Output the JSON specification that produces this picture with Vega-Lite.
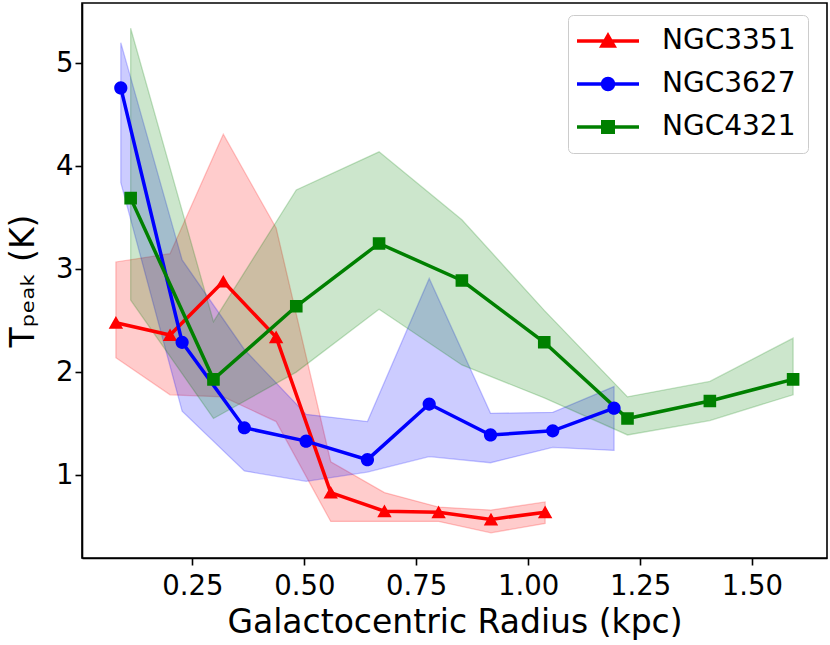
{
  "$schema": "https://vega.github.io/schema/vega-lite/v6.json",
  "width": 745,
  "height": 555,
  "autosize": {"type": "none"},
  "padding": {"left": 82, "top": 3, "right": 3, "bottom": 87},
  "background": "white",
  "config": {
    "view": {"stroke": "black", "strokeWidth": 1.6},
    "axis": {
      "grid": false,
      "domainColor": "black",
      "domainWidth": 1.6,
      "tickColor": "black",
      "tickWidth": 1.6,
      "tickSize": 7,
      "labelFont": "DejaVu Sans",
      "labelFontSize": 27.5,
      "labelColor": "black",
      "titleFont": "DejaVu Sans",
      "titleFontSize": 33,
      "titleFontWeight": "normal",
      "titleColor": "black"
    }
  },
  "data": {
    "values": [
      {"galaxy": "NGC3351", "r": 0.079, "t": 2.48, "lo": 2.14, "hi": 3.07},
      {"galaxy": "NGC3351", "r": 0.200, "t": 2.36, "lo": 1.78, "hi": 3.15},
      {"galaxy": "NGC3351", "r": 0.319, "t": 2.88, "lo": 1.76, "hi": 4.31},
      {"galaxy": "NGC3351", "r": 0.437, "t": 2.34, "lo": 1.52, "hi": 3.40},
      {"galaxy": "NGC3351", "r": 0.559, "t": 0.83, "lo": 0.55, "hi": 1.13},
      {"galaxy": "NGC3351", "r": 0.679, "t": 0.65, "lo": 0.55, "hi": 0.83},
      {"galaxy": "NGC3351", "r": 0.800, "t": 0.64, "lo": 0.55, "hi": 0.69},
      {"galaxy": "NGC3351", "r": 0.917, "t": 0.57, "lo": 0.44, "hi": 0.66},
      {"galaxy": "NGC3351", "r": 1.038, "t": 0.64, "lo": 0.53, "hi": 0.74},
      {"galaxy": "NGC3627", "r": 0.090, "t": 4.76, "lo": 3.84, "hi": 5.20},
      {"galaxy": "NGC3627", "r": 0.227, "t": 2.29, "lo": 1.62, "hi": 3.09},
      {"galaxy": "NGC3627", "r": 0.366, "t": 1.46, "lo": 1.04, "hi": 2.22},
      {"galaxy": "NGC3627", "r": 0.504, "t": 1.33, "lo": 0.94, "hi": 1.59},
      {"galaxy": "NGC3627", "r": 0.641, "t": 1.15, "lo": 1.03, "hi": 1.52},
      {"galaxy": "NGC3627", "r": 0.779, "t": 1.69, "lo": 1.18, "hi": 2.91},
      {"galaxy": "NGC3627", "r": 0.916, "t": 1.39, "lo": 1.12, "hi": 1.60},
      {"galaxy": "NGC3627", "r": 1.055, "t": 1.43, "lo": 1.27, "hi": 1.61},
      {"galaxy": "NGC3627", "r": 1.192, "t": 1.65, "lo": 1.24, "hi": 1.86},
      {"galaxy": "NGC4321", "r": 0.112, "t": 3.69, "lo": 2.70, "hi": 5.34},
      {"galaxy": "NGC4321", "r": 0.297, "t": 1.93, "lo": 1.55, "hi": 2.49},
      {"galaxy": "NGC4321", "r": 0.482, "t": 2.64, "lo": 2.00, "hi": 3.77},
      {"galaxy": "NGC4321", "r": 0.667, "t": 3.25, "lo": 2.61, "hi": 4.14},
      {"galaxy": "NGC4321", "r": 0.852, "t": 2.89, "lo": 2.07, "hi": 3.48},
      {"galaxy": "NGC4321", "r": 1.036, "t": 2.29, "lo": 1.75, "hi": 2.60},
      {"galaxy": "NGC4321", "r": 1.222, "t": 1.55, "lo": 1.39, "hi": 1.76},
      {"galaxy": "NGC4321", "r": 1.406, "t": 1.72, "lo": 1.53, "hi": 1.91},
      {"galaxy": "NGC4321", "r": 1.592, "t": 1.93, "lo": 1.78, "hi": 2.33}
    ]
  },
  "encoding": {
    "x": {
      "field": "r",
      "type": "quantitative",
      "scale": {"domain": [0.0033, 1.6677], "nice": false, "zero": false},
      "axis": {
        "title": "Galactocentric Radius (kpc)",
        "values": [0.25, 0.5, 0.75, 1.0, 1.25, 1.5],
        "format": ".2f",
        "labelPadding": 7,
        "titlePadding": 7
      }
    }
  },
  "layer": [
    {
      "mark": {"type": "area", "fillOpacity": 0.2, "strokeOpacity": 0.22, "strokeWidth": 1.3},
      "encoding": {
        "y": {"field": "lo", "type": "quantitative"},
        "y2": {"field": "hi"},
        "color": {
          "field": "galaxy",
          "type": "nominal",
          "scale": {"domain": ["NGC3351", "NGC3627", "NGC4321"], "range": ["#ff0000", "#0000ff", "#008000"]},
          "legend": {
            "title": null,
            "orient": "none",
            "legendX": 486,
            "legendY": 12,
            "padding": 12,
            "strokeColor": "#cccccc",
            "fillColor": "rgba(255,255,255,0.8)",
            "cornerRadius": 5,
            "labelFont": "DejaVu Sans",
            "labelFontSize": 28,
            "labelColor": "black",
            "symbolSize": 100,
            "symbolStrokeWidth": 3.5,
            "symbolOpacity": 1,
            "symbolOffset": 14,
            "labelOffset": 40,
            "rowPadding": 15
          }
        },
        "stroke": {
          "field": "galaxy",
          "type": "nominal",
          "scale": {"domain": ["NGC3351", "NGC3627", "NGC4321"], "range": ["#ff0000", "#0000ff", "#008000"]}
        }
      }
    },
    {
      "mark": {"type": "line", "strokeWidth": 3.5},
      "encoding": {
        "y": {"field": "t", "type": "quantitative"},
        "color": {"field": "galaxy", "type": "nominal"}
      }
    },
    {
      "mark": {"type": "point", "filled": true, "opacity": 1, "size": 144, "strokeWidth": 0},
      "encoding": {
        "y": {
          "field": "t",
          "type": "quantitative",
          "scale": {"domain": [0.195, 5.585], "nice": false, "zero": false},
          "axis": {
            "title": "Tₚₑₐₖ (K)",
            "values": [1, 2, 3, 4, 5],
            "format": "d",
            "labelPadding": 2,
            "titlePadding": 15
          }
        },
        "color": {"field": "galaxy", "type": "nominal"},
        "shape": {
          "field": "galaxy",
          "type": "nominal",
          "scale": {
            "domain": ["NGC3351", "NGC3627", "NGC4321"],
            "range": [
              "M-6.2,0H6.2M0,-1.1L1.2,1L-1.2,1Z",
              "M-6.2,0H6.2M-1.1,0A1.1,1.1 0 1,0 1.1,0A1.1,1.1 0 1,0 -1.1,0Z",
              "M-6.2,0H6.2M-1.05,-1.05H1.05V1.05H-1.05Z"
            ]
          }
        },
        "stroke": {"field": "galaxy", "type": "nominal"}
      }
    }
  ]
}
